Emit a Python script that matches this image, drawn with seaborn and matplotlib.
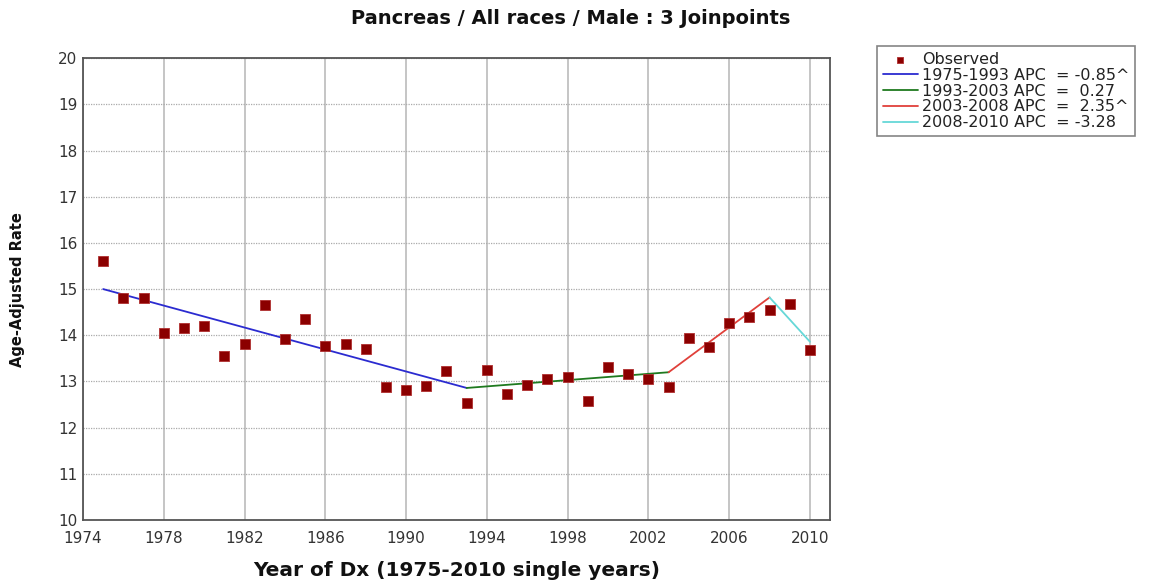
import matplotlib
matplotlib.use("Agg")
import matplotlib.pyplot as plt
import seaborn as sns
import pandas as pd

years = list(range(1975, 2011))
observed = [15.61, 14.81, 14.81, 14.05, 14.16, 14.20, 13.55, 13.81, 14.65, 13.92,
            14.35, 13.77, 13.81, 13.70, 12.88, 12.81, 12.90, 13.22, 12.53, 13.25,
            12.73, 12.92, 13.05, 13.10, 12.58, 13.31, 13.16, 13.05, 12.88, 13.94,
            13.74, 14.26, 14.39, 14.55, 14.68, 13.68]

seg_labels = ["1975-1993 APC  = -0.85^", "1993-2003 APC  =  0.27",
              "2003-2008 APC  =  2.35^", "2008-2010 APC  = -3.28"]
seg_years = [(1975, 1993), (1993, 2003), (2003, 2008), (2008, 2010)]
seg_values = [(15.00, 12.86), (12.86, 13.20), (13.20, 14.82), (14.82, 13.86)]
seg_colors = ["#2b2bd0", "#1f7a1f", "#e0403a", "#66d8d8"]

x_ticks = list(range(1974, 2011, 4))
y_ticks = list(range(10, 21))

sns.set_theme(style="white")
plt.rcParams['font.family'] = ['DejaVu Sans']

fig = plt.figure(figsize=(11.53, 5.87), dpi=100)
ax = fig.add_axes([0.072, 0.114, 0.648, 0.787])

for (y0, y1), (v0, v1), lab, col in zip(seg_years, seg_values, seg_labels, seg_colors):
    seg = pd.DataFrame({"Year": [y0, y1], "Rate": [v0, v1]})
    sns.lineplot(data=seg, x="Year", y="Rate", ax=ax, color=col, lw=1.3, label=lab)

obs = pd.DataFrame({"Year": years, "Rate": observed})
sns.scatterplot(data=obs, x="Year", y="Rate", ax=ax, marker="s", s=42,
                color="#8b0000", edgecolor="#b03030", linewidth=0.6,
                label="Observed", zorder=5)

ax.set_xlim(1974, 2011)
ax.set_ylim(10, 20)
ax.set_xticks(x_ticks)
ax.set_yticks(y_ticks)
ax.tick_params(axis="both", length=0, labelsize=11, colors="#333333")
ax.tick_params(axis="x", pad=8)
ax.tick_params(axis="y", pad=4)
ax.xaxis.grid(True, color="#bbbbbb", lw=1.2, ls="-")
ax.yaxis.grid(True, color="#aaaaaa", lw=0.9, ls=(0, (1, 1)))
ax.set_axisbelow(True)
for sp in ax.spines.values():
    sp.set_color("#555555")
    sp.set_linewidth(1.3)

ax.set_xlabel("Year of Dx (1975-2010 single years)", fontsize=14.5,
              fontweight="bold", color="#111111")
ax.xaxis.set_label_coords(0.5, -0.088)
ax.set_ylabel("Age-Adjusted Rate", fontsize=10.5, fontweight="bold",
              color="#111111")
ax.yaxis.set_label_coords(-0.077, 0.5)
fig.text(0.495, 0.969, "Pancreas / All races / Male : 3 Joinpoints",
         ha="center", va="center", fontsize=14, fontweight="bold",
         color="#111111")

handles, labels = ax.get_legend_handles_labels()
order = [4, 0, 1, 2, 3]
leg = ax.legend([handles[i] for i in order], [labels[i] for i in order],
                loc="upper left", bbox_to_anchor=(0.7606, 0.921),
                bbox_transform=fig.transFigure, frameon=True, fancybox=False,
                fontsize=11.5, handlelength=2.2, handletextpad=0.3,
                borderpad=0.35, labelspacing=0.05, markerscale=0.6,
                borderaxespad=0)
leg.get_frame().set_edgecolor("#666666")
leg.get_frame().set_linewidth(1.2)
for t in leg.get_texts():
    t.set_color("#222222")

fig.savefig("out.png", dpi=100, facecolor="white")
